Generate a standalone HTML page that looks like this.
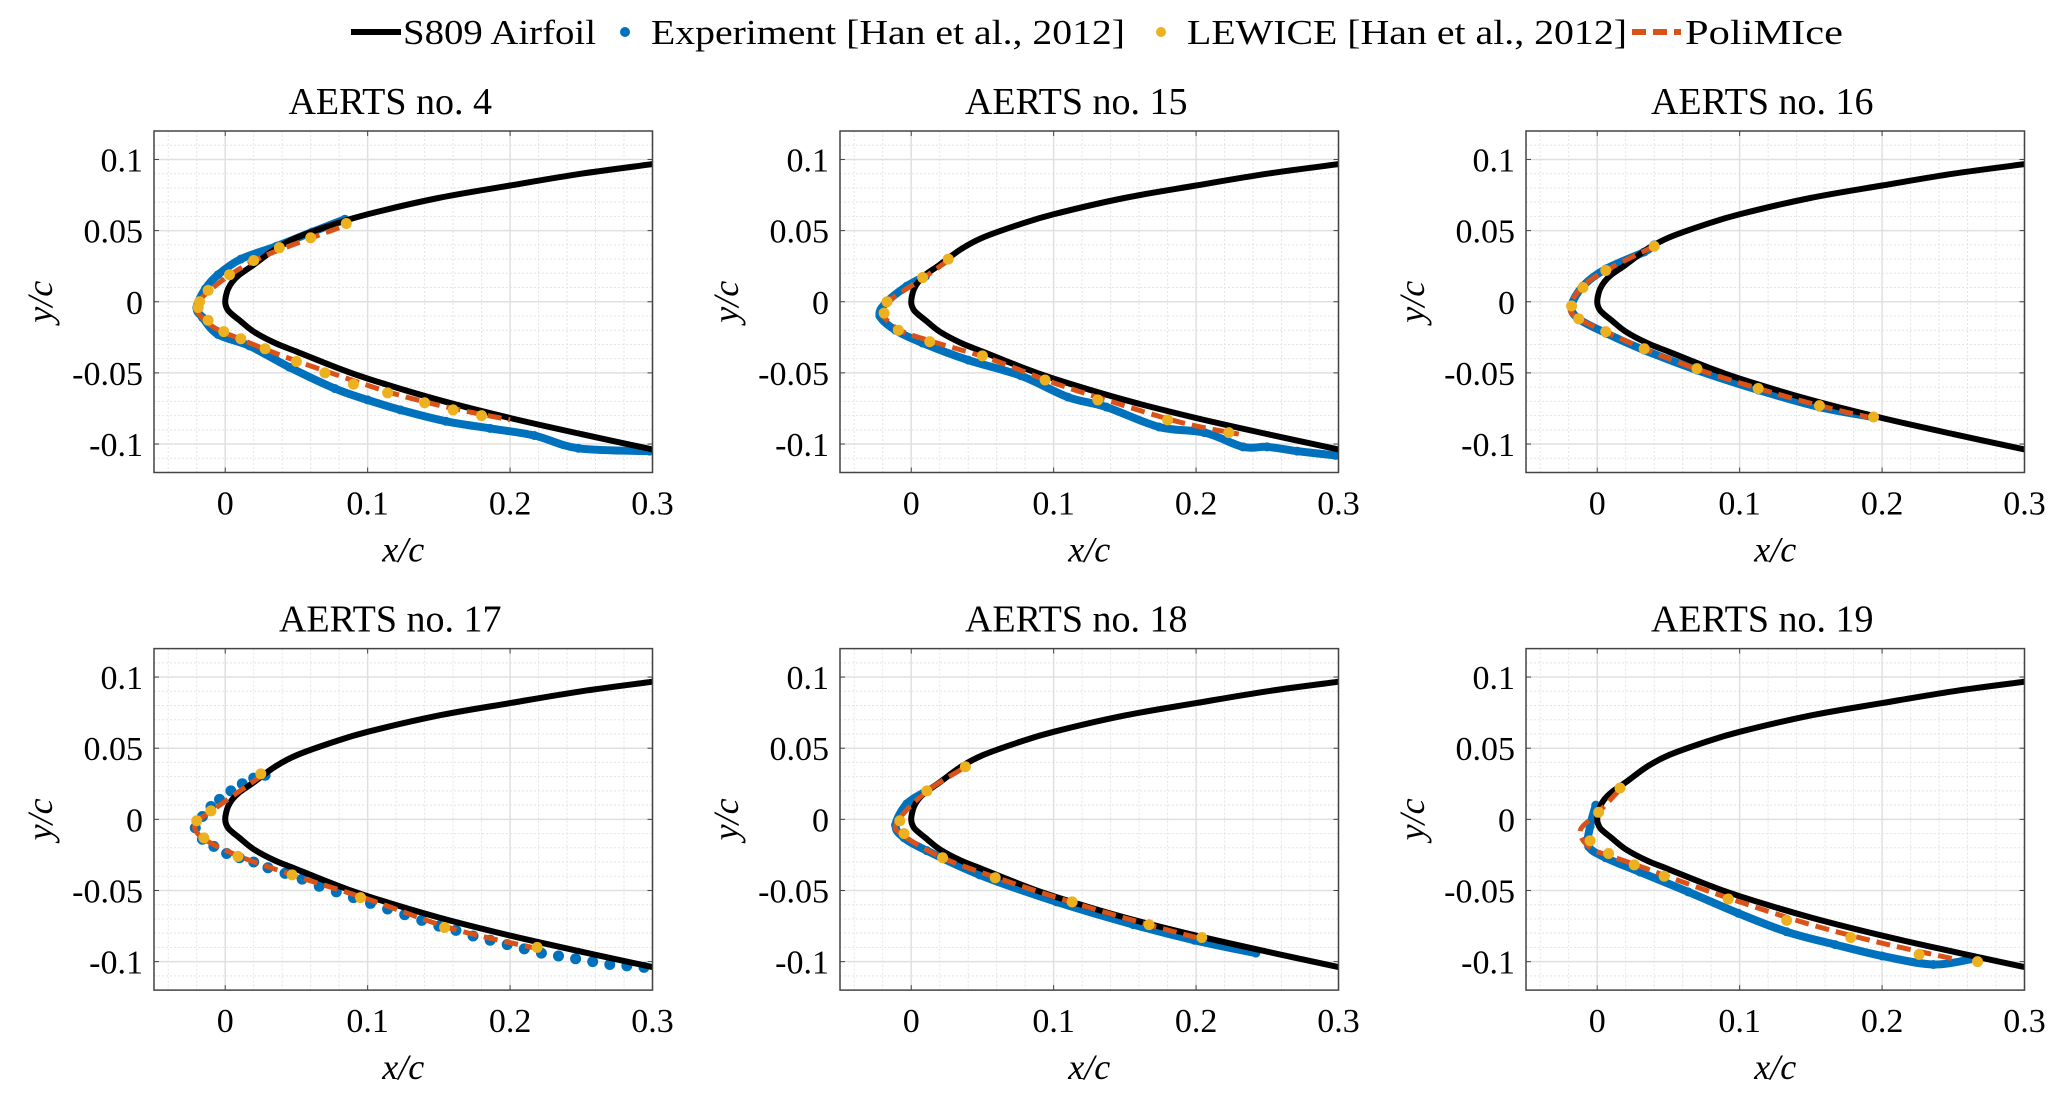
<!DOCTYPE html>
<html><head><meta charset="utf-8"><style>
html,body{margin:0;padding:0;background:#fff}
svg{display:block}
text{font-family:"Liberation Serif",serif;fill:#000}
</style></head><body>
<svg id="fig" width="2067" height="1109" viewBox="0 0 2067 1109" xmlns="http://www.w3.org/2000/svg">
<g id="legend">
  <line x1="351" y1="32" x2="401" y2="32" stroke="#000" stroke-width="6"/>
  <text x="403" y="44" font-size="35" textLength="193" lengthAdjust="spacingAndGlyphs">S809 Airfoil</text>
  <circle cx="625" cy="32" r="5" fill="#0072BD"/>
  <text x="651" y="44" font-size="35" textLength="474" lengthAdjust="spacingAndGlyphs">Experiment [Han et al., 2012]</text>
  <circle cx="1161" cy="32" r="5" fill="#EDB120"/>
  <text x="1187" y="44" font-size="35" textLength="440" lengthAdjust="spacingAndGlyphs">LEWICE [Han et al., 2012]</text>
  <line x1="1632" y1="32" x2="1681" y2="32" stroke="#D95319" stroke-width="6" stroke-dasharray="14 7"/>
  <text x="1685" y="44" font-size="35" textLength="158" lengthAdjust="spacingAndGlyphs">PoliMIce</text>
</g>
</svg>
<script>
// Airfoil (S809 leading-edge region)
const airUpX=[0,0.0005,0.002,0.005,0.01,0.02,0.035,0.05,0.075,0.1,0.15,0.2,0.25,0.3];
const airUpY=[0,0.004,0.009,0.014,0.019,0.026,0.037,0.045,0.054,0.0615,0.073,0.0817,0.09,0.0967];
const airLoX=[0,0.0005,0.002,0.005,0.01,0.02,0.035,0.05,0.075,0.1,0.15,0.2,0.25,0.3];
const airLoY=[0,-0.003,-0.006,-0.009,-0.013,-0.021,-0.029,-0.035,-0.045,-0.054,-0.069,-0.0817,-0.093,-0.1038];
const titles=["AERTS  no. 4","AERTS  no. 15","AERTS  no. 16","AERTS  no. 17","AERTS  no. 18","AERTS  no. 19"];
const xTicks=[0,0.1,0.2,0.3];
const xTickLabels=["0","0.1","0.2","0.3"];
const yTicks=[0.1,0.05,0,-0.05,-0.1];
const yTickLabels=["0.1","0.05","0","-0.05","-0.1"];
// Experiment
const expX=[
[0.084,0.061,0.036,0.011,-0.005,-0.014,-0.02,-0.016,-0.005,0.017,0.045,0.077,0.1,0.123,0.155,0.186,0.217,0.248,0.298],
[0.01,-0.003,-0.018,-0.022,-0.011,0.008,0.04,0.077,0.11,0.137,0.174,0.206,0.233,0.25,0.271,0.298],
[0.04,0.033,0.006,-0.01,-0.018,-0.013,0.006,0.033,0.07,0.113,0.156,0.194],
[0.028,0.02,0.012,0.004,-0.004,-0.01,-0.016,-0.021,-0.016,-0.008,0.001,0.01,0.02,0.03,0.042,0.054,0.066,0.078,0.09,0.102,0.114,0.126,0.138,0.15,0.162,0.174,0.186,0.198,0.21,0.222,0.234,0.246,0.258,0.27,0.282,0.294],
[0.011,-0.003,-0.011,-0.005,0.011,0.048,0.102,0.156,0.199,0.242],
[-0.001,-0.005,-0.006,0.006,0.03,0.064,0.099,0.133,0.167,0.2,0.236,0.264]];
const expY=[
[0.058,0.049,0.039,0.03,0.019,0.009,-0.004,-0.011,-0.023,-0.031,-0.046,-0.061,-0.069,-0.076,-0.084,-0.089,-0.094,-0.103,-0.105],
[0.018,0.011,-0.001,-0.01,-0.02,-0.029,-0.041,-0.052,-0.067,-0.074,-0.088,-0.092,-0.102,-0.102,-0.105,-0.108],
[0.04,0.035,0.023,0.011,-0.003,-0.012,-0.022,-0.034,-0.048,-0.062,-0.074,-0.081],
[0.031,0.029,0.025,0.02,0.014,0.009,0.002,-0.006,-0.014,-0.019,-0.024,-0.027,-0.03,-0.034,-0.038,-0.042,-0.047,-0.051,-0.055,-0.059,-0.063,-0.067,-0.071,-0.075,-0.078,-0.082,-0.085,-0.088,-0.091,-0.094,-0.096,-0.098,-0.1,-0.102,-0.103,-0.104],
[0.02,0.011,-0.004,-0.013,-0.022,-0.039,-0.058,-0.074,-0.085,-0.094],
[0.01,-0.005,-0.019,-0.027,-0.037,-0.051,-0.066,-0.079,-0.088,-0.096,-0.102,-0.098]];
// LEWICE
const lewX=[
[0.085,0.06,0.038,0.02,0.003,-0.012,-0.018,-0.019,-0.012,-0.001,0.011,0.028,0.05,0.07,0.09,0.114,0.14,0.16,0.18],
[0.026,0.008,-0.017,-0.019,-0.009,0.013,0.05,0.094,0.131,0.18,0.223],
[0.04,0.006,-0.01,-0.018,-0.013,0.006,0.033,0.07,0.113,0.156,0.194],
[0.025,-0.01,-0.02,-0.015,0.009,0.047,0.095,0.154,0.219],
[0.038,0.011,-0.008,-0.005,0.022,0.059,0.113,0.167,0.204],
[0.016,0.001,-0.005,0.008,0.026,0.047,0.092,0.133,0.178,0.226,0.267]];
const lewY=[
[0.055,0.045,0.038,0.029,0.019,0.008,0.0,-0.004,-0.013,-0.021,-0.026,-0.033,-0.042,-0.05,-0.058,-0.064,-0.071,-0.076,-0.08],
[0.03,0.017,0.0,-0.008,-0.02,-0.028,-0.038,-0.055,-0.069,-0.083,-0.092],
[0.039,0.022,0.01,-0.003,-0.012,-0.021,-0.033,-0.047,-0.061,-0.073,-0.081],
[0.032,0.006,-0.001,-0.013,-0.026,-0.039,-0.055,-0.076,-0.09],
[0.037,0.02,-0.001,-0.01,-0.027,-0.041,-0.058,-0.074,-0.083],
[0.022,0.005,-0.015,-0.024,-0.032,-0.04,-0.056,-0.071,-0.083,-0.095,-0.1]];
// PoliMIce
const polX=[
[0.08,0.05,0.025,0.005,-0.012,-0.02,-0.019,-0.008,0.01,0.04,0.08,0.12,0.16,0.2],
[0.026,0.006,-0.018,-0.02,-0.008,0.015,0.055,0.1,0.14,0.19,0.23],
[0.04,0.006,-0.011,-0.019,-0.013,0.008,0.035,0.075,0.12,0.16,0.19],
[0.026,-0.008,-0.021,-0.016,0.01,0.05,0.1,0.16,0.22],
[0.035,0.01,-0.01,-0.006,0.022,0.06,0.115,0.17,0.2],
[0.015,0.0,-0.012,-0.005,0.01,0.03,0.06,0.1,0.15,0.2,0.25]];
const polY=[
[0.052,0.041,0.031,0.02,0.007,-0.002,-0.008,-0.018,-0.026,-0.038,-0.052,-0.065,-0.075,-0.083],
[0.029,0.015,-0.001,-0.009,-0.02,-0.028,-0.04,-0.057,-0.07,-0.085,-0.093],
[0.039,0.022,0.01,-0.004,-0.012,-0.022,-0.034,-0.049,-0.063,-0.074,-0.081],
[0.031,0.007,-0.003,-0.013,-0.026,-0.04,-0.056,-0.077,-0.091],
[0.035,0.019,-0.002,-0.011,-0.027,-0.041,-0.059,-0.075,-0.083],
[0.02,0.004,-0.008,-0.02,-0.026,-0.033,-0.044,-0.058,-0.074,-0.087,-0.098]];

const NS="http://www.w3.org/2000/svg";
const svg=document.getElementById('fig');
const colLeft=[154,840,1526], rowTop=[131,648.6];
const W=498.5, H=341.5, XMIN=-0.05, XMAX=0.3, YMIN=-0.12, YMAX=0.12;
function mk(tag,attrs,parent){const e=document.createElementNS(NS,tag);for(const k in attrs)e.setAttribute(k,attrs[k]);parent.appendChild(e);return e;}
function smooth(P){ // Catmull-Rom through screen points
  let d='M'+P[0][0]+','+P[0][1];
  for(let i=0;i<P.length-1;i++){
    const p0=P[Math.max(i-1,0)],p1=P[i],p2=P[i+1],p3=P[Math.min(i+2,P.length-1)];
    const c1=[p1[0]+(p2[0]-p0[0])/6,p1[1]+(p2[1]-p0[1])/6];
    const c2=[p2[0]-(p3[0]-p1[0])/6,p2[1]-(p3[1]-p1[1])/6];
    d+=' C'+c1[0]+','+c1[1]+' '+c2[0]+','+c2[1]+' '+p2[0]+','+p2[1];
  }
  return d;
}

for(let p=0;p<6;p++){
  const L=colLeft[p%3], T=rowTop[Math.floor(p/3)];
  const sx=v=>L+(v-XMIN)/(XMAX-XMIN)*W;
  const sy=v=>T+(YMAX-v)/(YMAX-YMIN)*H;
  const g=mk('g',{},svg);
  
  
  const clip=mk('clipPath',{id:'c'+p},g);
  mk('rect',{x:L,y:T,width:W,height:H},clip);
  for(let i=0;i<=17;i++){const v=-0.04+i*0.02; if(v>XMAX+1e-9)break;
    mk('line',{x1:sx(v),y1:T,x2:sx(v),y2:T+H,stroke:'#e4e4e4','stroke-width':1,'stroke-dasharray':'2 2'},g);}
  for(let i=0;i<=24;i++){const v=-0.12+i*0.01;
    mk('line',{x1:L,y1:sy(v),x2:L+W,y2:sy(v),stroke:'#e4e4e4','stroke-width':1,'stroke-dasharray':'2 2'},g);}
  xTicks.forEach(v=>mk('line',{x1:sx(v),y1:T,x2:sx(v),y2:T+H,stroke:'#e0e0e0','stroke-width':1.5},g));
  yTicks.forEach(v=>mk('line',{x1:L,y1:sy(v),x2:L+W,y2:sy(v),stroke:'#e0e0e0','stroke-width':1.5},g));
  const data=mk('g',{'clip-path':'url(#c'+p+')'},g);
  // experiment
  const eP=expX[p].map((x,i)=>[sx(x),sy(expY[p][i])]);
  if(p!==3){
    const el=mk('path',{d:smooth(eP),fill:'none',stroke:'#0072BD','stroke-width':8,'stroke-linejoin':'round','stroke-linecap':'round'},data);
    
    
  }
  eP.forEach(q=>{const c=mk('circle',{cx:q[0],cy:q[1],r:p===3?5.5:4.5,fill:'#0072BD'},data);
    
    });
  // airfoil
  const aP=[];
  for(let i=airUpX.length-1;i>=0;i--)aP.push([sx(airUpX[i]),sy(airUpY[i])]);
  for(let i=1;i<airLoX.length;i++)aP.push([sx(airLoX[i]),sy(airLoY[i])]);
  const af=mk('path',{d:smooth(aP),fill:'none',stroke:'#000','stroke-width':6,'stroke-linejoin':'round'},data);
  
  
  // polimice
  const pP=polX[p].map((x,i)=>[sx(x),sy(polY[p][i])]);
  const pl=mk('path',{d:smooth(pP),fill:'none',stroke:'#D95319','stroke-width':5,'stroke-dasharray':'14 7','stroke-linejoin':'round'},data);
  
  
  // lewice
  lewX[p].forEach((x,i)=>{const c=mk('circle',{cx:sx(x),cy:sy(lewY[p][i]),r:5.5,fill:'#EDB120'},data);
    
    });
  mk('rect',{x:L,y:T,width:W,height:H,fill:'none',stroke:'#444','stroke-width':1.5},g);
  xTicks.forEach(v=>{mk('line',{x1:sx(v),y1:T,x2:sx(v),y2:T+5,stroke:'#444'},g);mk('line',{x1:sx(v),y1:T+H,x2:sx(v),y2:T+H-5,stroke:'#444'},g);});
  yTicks.forEach(v=>{mk('line',{x1:L,y1:sy(v),x2:L+5,y2:sy(v),stroke:'#444'},g);mk('line',{x1:L+W,y1:sy(v),x2:L+W-5,y2:sy(v),stroke:'#444'},g);});
  xTicks.forEach((v,i)=>{const t=mk('text',{x:sx(v),y:T+H+42,'font-size':34,'text-anchor':'middle'},g);t.textContent=xTickLabels[i];
    
    });
  yTicks.forEach((v,i)=>{const t=mk('text',{x:L-11,y:sy(v)+12,'font-size':34,'text-anchor':'end'},g);t.textContent=yTickLabels[i];
    
    });
  const tt=mk('text',{x:L+W/2-13,y:T-17,'font-size':38,'text-anchor':'middle'},g);tt.textContent=titles[p];
  
  
  const xl=mk('text',{x:L+W/2,y:T+H+89,'font-size':36,'font-style':'italic','text-anchor':'middle'},g);xl.textContent='x/c';
  
  
  const yl=mk('text',{x:0,y:0,'font-size':36,'font-style':'italic','text-anchor':'middle',transform:'translate('+(L-102)+','+(T+H/2)+') rotate(-90)'},g);yl.textContent='y/c';
  
  
}
</script>
</body></html>
